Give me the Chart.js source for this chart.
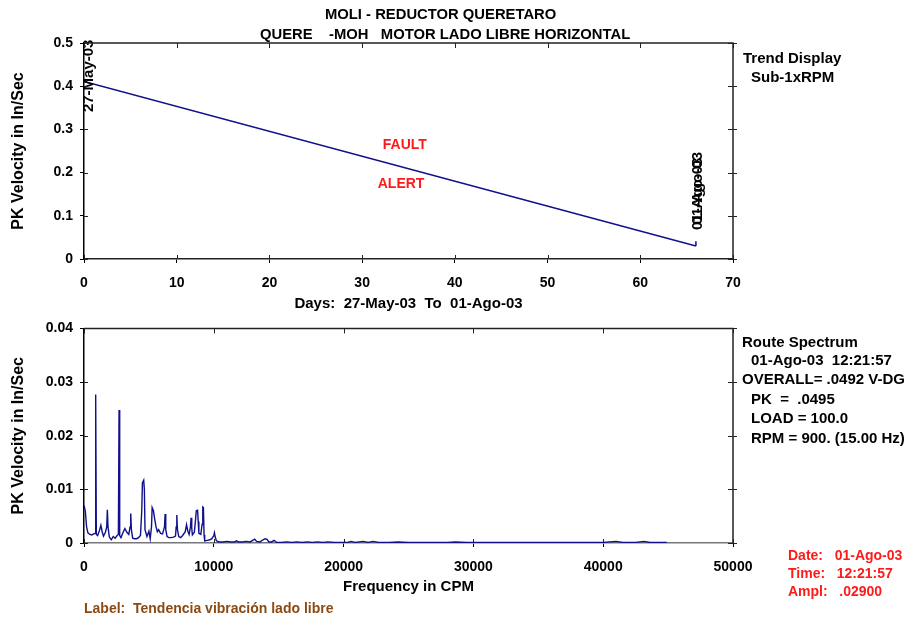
<!DOCTYPE html>
<html><head><meta charset="utf-8">
<script src="https://cdn.jsdelivr.net/npm/chart.js@4.4.0/dist/chart.umd.min.js"></script>
<style>
html,body{margin:0;padding:0;background:#fff;}
body{width:904px;height:617px;position:relative;overflow:hidden;font-family:"Liberation Sans",Arial,sans-serif;font-weight:bold;}
canvas{position:absolute;left:0;}
.t{position:absolute;white-space:pre;font-size:15px;line-height:17px;transform:translateY(-50%);color:#000;}
.r{color:#ff1a1a;font-size:14px;}
</style></head><body>
<canvas id="c1" width="904" height="313" style="top:0;width:904px;height:313px"></canvas>
<canvas id="c2" width="904" height="304" style="top:313px;width:904px;height:304px"></canvas>

<div class="t" style="left:325px;top:14px;font-size:14.8px">MOLI - REDUCTOR QUERETARO</div>
<div class="t" style="left:260px;top:34px;font-size:14.8px">QUERE    -MOH   MOTOR LADO LIBRE HORIZONTAL</div>
<div class="t" style="left:743px;top:57px">Trend Display</div>
<div class="t" style="left:751px;top:76px">Sub-1xRPM</div>

<div class="t" style="left:742px;top:341px">Route Spectrum</div>
<div class="t" style="left:751px;top:359px">01-Ago-03  12:21:57</div>
<div class="t" style="left:742px;top:378px">OVERALL= .0492 V-DG</div>
<div class="t" style="left:751px;top:398px">PK  =  .0495</div>
<div class="t" style="left:751px;top:417px">LOAD = 100.0</div>
<div class="t" style="left:751px;top:437px">RPM = 900. (15.00 Hz)</div>

<div class="t r" style="left:788px;top:555px">Date:   01-Ago-03</div>
<div class="t r" style="left:788px;top:573px">Time:   12:21:57</div>
<div class="t r" style="left:788px;top:591px">Ampl:   .02900</div>

<div class="t" style="left:84px;top:608px;font-size:14px;color:#8b4a12">Label:  Tendencia vibración lado libre</div>

<script>
// ---- Trend data (days since 27-May-03, PK velocity In/Sec)
const trendDays = [0, 66];
const trendValues = [0.411, 0.030];
const markerDays = [66, 66];
const markerValues = [0.030, 0.041];
const trendXTicks = [0, 10, 20, 30, 40, 50, 60, 70];
const trendYTicks = [0, 0.1, 0.2, 0.3, 0.4, 0.5];

// ---- Spectrum data (CPM, PK velocity In/Sec)
const specCPM = [0,100,200,300,450,600,750,850,900,950,1050,1200,1300,1400,1500,1650,1750,1800,1850,1950,
2100,2250,2400,2550,2650,2700,2750,2850,3000,3150,3300,3450,3550,3600,3650,3750,3900,4050,4200,4350,
4450,4500,4600,4650,4700,4850,5000,5100,5200,5250,5350,5450,5550,5650,5750,5900,6050,6200,6250,6300,
6400,6550,6700,6900,7050,7100,7150,7200,7300,7450,7600,7800,7900,8000,8100,8200,8250,8300,8350,8500,
8600,8650,8750,8800,8850,9000,9100,9150,9200,9250,9300,9500,9700,9850,10000,10050,10100,10200,10400,
10700,11000,11300,11600,11750,11900,12200,12500,12800,13000,13150,13300,13550,13800,13950,14100,14250,14450,14650,14850,
15200,15600,16000,16400,16800,17200,17600,18000,18400,18800,19300,19800,20300,20570,20900,21500,21900,22260,22700,23500,
24200,25000,26000,27000,28000,28600,29500,31000,32500,34000,35500,37000,38500,40000,41000,41500,42500,43150,43600,44900];
const specAmp = [0.0070,0.0060,0.0030,0.0019,0.0016,0.0015,0.0017,0.0018,0.0277,0.0016,0.0014,0.0024,0.0033,0.0021,0.0013,0.0020,0.0030,0.0062,0.0030,0.0011,
0.0006,0.0012,0.0009,0.0014,0.0016,0.0248,0.0014,0.0010,0.0019,0.0027,0.0020,0.0016,0.0030,0.0055,0.0025,0.0009,0.0008,0.0008,0.0010,0.0014,
0.0060,0.0112,0.0117,0.0100,0.0025,0.0012,0.0022,0.0008,0.0030,0.0066,0.0060,0.0044,0.0030,0.0021,0.0025,0.0018,0.0017,0.0030,0.0054,0.0025,
0.0012,0.0010,0.0010,0.0011,0.0013,0.0030,0.0052,0.0025,0.0012,0.0010,0.0014,0.0021,0.0034,0.0022,0.0016,0.0030,0.0047,0.0028,0.0015,0.0020,
0.0045,0.0060,0.0061,0.0040,0.0018,0.0016,0.0035,0.0067,0.0066,0.0015,0.0004,0.0005,0.0006,0.0008,0.0014,0.0019,0.0012,0.0004,0.0002,
0.0002,0.0003,0.0002,0.0002,0.0004,0.0002,0.0002,0.0003,0.0002,0.0005,0.0007,0.0003,0.0002,0.0006,0.0008,0.0007,0.0002,0.0002,0.0005,0.0001,
0.0001,0.0002,0.0001,0.0002,0.0001,0.0002,0.0001,0.0002,0.0001,0.0002,0.0001,0.0001,0.0001,0.0003,0.0001,0.0003,0.0001,0.0003,0.0001,0.0001,
0.0002,0.0001,0.0001,0.0001,0.0001,0.0002,0.0001,0.0001,0.0001,0.0001,0.0001,0.0001,0.0001,0.0001,0.0003,0.0001,0.0001,0.0003,0.0001,0.0001];
const specXTicks = [0, 10000, 20000, 30000, 40000, 50000];
const specYTicks = [0, 0.01, 0.02, 0.03, 0.04];

// ---- Trend annotations
const dateLabelText = ['27-May-03', '01-Ago-03'];
const alarmText = ['FAULT', 'ALERT'];

const FONT = 'Liberation Sans, Arial, sans-serif';
const tickFont = {family: FONT, size: 14, weight: 'bold'};
const titleFont = {family: FONT, size: 15, weight: 'bold'};
const yTitleFont = {family: FONT, size: 16, weight: 'bold'};
const LINE = '#10108c';

const framePlugin = {
  id: 'frame',
  afterDraw(chart) {
    const {ctx, chartArea: a, scales: {x, y}} = chart;
    ctx.save();
    ctx.strokeStyle = '#222';
    ctx.lineWidth = 1.5;
    ctx.beginPath();
    ctx.moveTo(a.left, a.top); ctx.lineTo(a.right, a.top); ctx.lineTo(a.right, a.bottom);
    ctx.stroke();
    ctx.lineWidth = 1;
    ctx.beginPath();
    x.ticks.forEach(t => {
      const px = Math.round(x.getPixelForValue(t.value)) + 0.5;
      ctx.moveTo(px, a.top); ctx.lineTo(px, a.top + 5);
      ctx.moveTo(px, a.bottom); ctx.lineTo(px, a.bottom - 4);
    });
    y.ticks.forEach(t => {
      const py = Math.round(y.getPixelForValue(t.value)) + 0.5;
      ctx.moveTo(a.right - 5, py); ctx.lineTo(a.right + 4, py);
      ctx.moveTo(a.left, py); ctx.lineTo(a.left + 4, py);
    });
    ctx.stroke();
    ctx.restore();
  }
};

const trendLabels = {
  id: 'trendLabels',
  afterDatasetsDraw(chart) {
    const {ctx, scales: {x, y}} = chart;
    ctx.save();
    ctx.fillStyle = '#000';
    ctx.font = 'bold 15px ' + FONT;
    ctx.textAlign = 'left';
    ctx.textBaseline = 'middle';
    const drawRot = (txt, px, py) => {
      ctx.save(); ctx.translate(px, py); ctx.rotate(-Math.PI / 2); ctx.fillText(txt, 0, 0); ctx.restore();
    };
    drawRot(dateLabelText[0], x.getPixelForValue(trendDays[0]) + 5, y.getPixelForValue(0.340));
    drawRot(dateLabelText[1], x.getPixelForValue(trendDays[1]) + 2, y.getPixelForValue(0.067));
    drawRot(dateLabelText[1], x.getPixelForValue(trendDays[1]) + 2, y.getPixelForValue(0.080));
    ctx.fillStyle = '#ff1a1a';
    ctx.font = 'bold 14px ' + FONT;
    ctx.textAlign = 'center';
    ctx.fillText(alarmText[0], x.getPixelForValue(34.6), y.getPixelForValue(0.264));
    ctx.fillText(alarmText[1], x.getPixelForValue(34.2), y.getPixelForValue(0.174));
    ctx.restore();
  }
};

function axisX(min, max, ticks, title, h, borderColor) {
  return {
    type: 'linear', min, max,
    afterBuildTicks(s) { s.ticks = ticks.map(v => ({value: v})); },
    afterFit(s) { s.height = h; },
    ticks: {font: tickFont, color: '#000', padding: 12, maxRotation: 0, autoSkip: false, callback: v => String(v)},
    grid: {drawOnChartArea: false, drawTicks: true, tickLength: 4, color: '#000'},
    border: {display: true, color: borderColor, width: 1.5},
    title: {display: true, text: title, font: titleFont, color: '#000', padding: 0}
  };
}
function axisY(min, max, ticks, w) {
  return {
    type: 'linear', min, max,
    afterBuildTicks(s) { s.ticks = ticks.map(v => ({value: v})); },
    afterFit(s) { s.width = w; },
    ticks: {font: tickFont, color: '#000', padding: 7, autoSkip: false, callback: v => String(v)},
    grid: {drawOnChartArea: false, drawTicks: true, tickLength: 4, color: '#000'},
    border: {display: true, color: '#000', width: 1.5},
    title: {display: true, text: 'PK Velocity in In/Sec', font: yTitleFont, color: '#000', padding: 0}
  };
}

Chart.defaults.font.family = FONT;

new Chart(document.getElementById('c1'), {
  type: 'line',
  data: {
    datasets: [
      {data: trendDays.map((d, i) => ({x: d, y: trendValues[i]})), borderColor: LINE, borderWidth: 1.5, pointRadius: 0, fill: false, tension: 0},
      {data: markerDays.map((d, i) => ({x: d, y: markerValues[i]})), borderColor: LINE, borderWidth: 1.5, pointRadius: 0, fill: false}
    ]
  },
  options: {
    responsive: false, animation: false, devicePixelRatio: 1,
    layout: {padding: {left: 9, right: 171, top: 43, bottom: 0}},
    plugins: {legend: {display: false}, tooltip: {enabled: false}},
    scales: {
      x: axisX(0, 70, trendXTicks, 'Days:  27-May-03  To  01-Ago-03', 54, '#222'),
      y: axisY(0, 0.5, trendYTicks, 75)
    }
  },
  plugins: [framePlugin, trendLabels]
});

new Chart(document.getElementById('c2'), {
  type: 'line',
  data: {
    datasets: [
      {data: specCPM.map((f, i) => ({x: f, y: specAmp[i]})), borderColor: LINE, borderWidth: 1.4, pointRadius: 0, fill: false, tension: 0}
    ]
  },
  options: {
    responsive: false, animation: false, devicePixelRatio: 1,
    layout: {padding: {left: 9, right: 171, top: 14, bottom: 21}},
    plugins: {legend: {display: false}, tooltip: {enabled: false}},
    scales: {
      x: axisX(0, 50000, specXTicks, 'Frequency in CPM', 53, '#777'),
      y: axisY(0, 0.04, specYTicks, 75)
    }
  },
  plugins: [framePlugin]
});
</script>
</body></html>
